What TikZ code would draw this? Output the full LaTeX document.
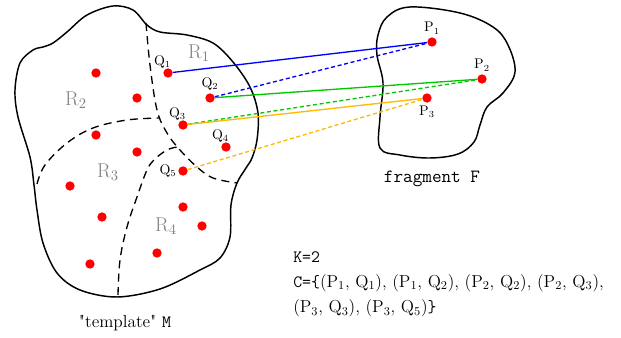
\documentclass[tikz,border=0pt]{standalone}
\usepackage{fontspec}
\usepackage{tikz}
\usetikzlibrary{positioning}
\definecolor{regiongray}{RGB}{128,128,128}
\definecolor{pairblue}{RGB}{0,0,255}
\definecolor{pairgreen}{RGB}{0,200,0}
\definecolor{pairorange}{RGB}{255,185,0}
\definecolor{dotred}{RGB}{255,0,0}

\begin{document}
\begin{tikzpicture}[x=0.75pt, y=-0.75pt,
  dot/.style={circle, fill=dotred, inner sep=0pt, minimum size=7pt},
  ptlab/.style={font=\fontsize{10.5}{10.5}\selectfont, inner sep=1pt},
  reglab/.style={font=\fontsize{15}{15}\selectfont, text=regiongray},
  outline/.style={line width=1.1pt, line join=round},
  border/.style={line width=1pt, dash pattern=on 6pt off 4pt},
  solidpair/.style={line width=1pt},
  dashpair/.style={line width=1pt, dash pattern=on 3pt off 2pt}]
\useasboundingbox (0,0) rectangle (621,338);
\draw[outline] plot[smooth cycle, tension=0.55] coordinates {(113,6) (133,10) (147,25) (160,32) (187,35) (213,43) (233,62) (250,87) (258,113) (257,140) (252,158) (246,168) (237,183) (231,205) (230,237) (220,258) (200,270) (160,289) (117,297) (80,290) (57,273) (43,243) (37,210) (34,185) (30,157) (18,117) (15,90) (20,63) (33,50) (43,47) (53,43) (67,32) (87,15)};
\draw[outline] plot[smooth cycle, tension=0.6] coordinates {(410,7) (460,13) (493,27) (508,45) (515,72) (503,93) (487,107) (480,125) (474,142) (458,154) (430,158) (400,155) (380,148) (380,117) (383,83) (377,55) (378,35) (387,17)};
\draw[border] plot[smooth, tension=0.6] coordinates {(146,23) (150,65) (157,110) (167,133) (180,150) (197,167) (213,178) (237,183)};
\draw[border] plot[smooth, tension=0.6] coordinates {(37,184) (45,165) (67,143) (93,128) (127,120) (160,118)};
\draw[border] plot[smooth, tension=0.6] coordinates {(118,295) (120,260) (127,227) (137,197) (147,170) (155,159) (167,150) (177,147)};
\node[dot] (q1) at (168,73) {};
\node[dot] (q2) at (210,98) {};
\node[dot] (q3) at (183,125) {};
\node[dot] (q4) at (226,147) {};
\node[dot] (q5) at (183,171) {};
\node[dot] (r2a) at (96,73) {};
\node[dot] (r2b) at (137,98) {};
\node[dot] (r3a) at (96,135) {};
\node[dot] (r3b) at (137,152) {};
\node[dot] (r3c) at (70,186) {};
\node[dot] (r3d) at (102,217) {};
\node[dot] (r3e) at (90,264) {};
\node[dot] (r4a) at (183,207) {};
\node[dot] (r4b) at (202,226) {};
\node[dot] (r4c) at (157,253) {};
\node[dot] (p1) at (432,42) {};
\node[dot] (p2) at (482,79) {};
\node[dot] (p3) at (427,98) {};
\node[ptlab, above left=0pt and -6pt of q1] (q1lab) {Q$_1$};
\node[ptlab, above=1pt of q2] (q2lab) {Q$_2$};
\node[ptlab, above left=0pt and -6pt of q3] (q3lab) {Q$_3$};
\node[ptlab, above left=0pt and -6pt of q4] (q4lab) {Q$_4$};
\node[ptlab, left=0pt of q5] (q5lab) {Q$_5$};
\node[ptlab, above=1pt of p1] (p1lab) {P$_1$};
\node[ptlab, above=1pt of p2] (p2lab) {P$_2$};
\node[ptlab, below=1pt of p3] (p3lab) {P$_3$};
\node[reglab] (r1) at (199,53) {R$_1$};
\node[reglab] (r2) at (76,100) {R$_2$};
\node[reglab] (r3) at (108,172) {R$_3$};
\node[reglab] (r4) at (166,226) {R$_4$};
\draw[solidpair, pairblue] (q1) -- (p1);
\draw[dashpair, pairblue] (q2) -- (p1);
\draw[solidpair, pairgreen] (q2) -- (p2);
\draw[dashpair, pairgreen] (q3) -- (p2);
\draw[solidpair, pairorange] (q3) -- (p3);
\draw[dashpair, pairorange] (q5) -- (p3);
\node[font=\fontsize{14}{16}\selectfont\ttfamily] (frag) at (432,179) {fragment F};
\node[font=\fontsize{13}{15}\selectfont] (tmpl) at (125,323) {\textquotedbl template\textquotedbl\ \texttt{M}};
\node[font=\fontsize{13}{19}\selectfont, align=left, anchor=north west, inner sep=0pt] (pairs) at (293,251)
  {\texttt{K=2}\\
   \texttt{C=\{}(P$_1$, Q$_1$), (P$_1$, Q$_2$), (P$_2$, Q$_2$), (P$_2$, Q$_3$),\\
   (P$_3$, Q$_3$), (P$_3$, Q$_5$)\texttt{\}}};
\end{tikzpicture}
\end{document}
